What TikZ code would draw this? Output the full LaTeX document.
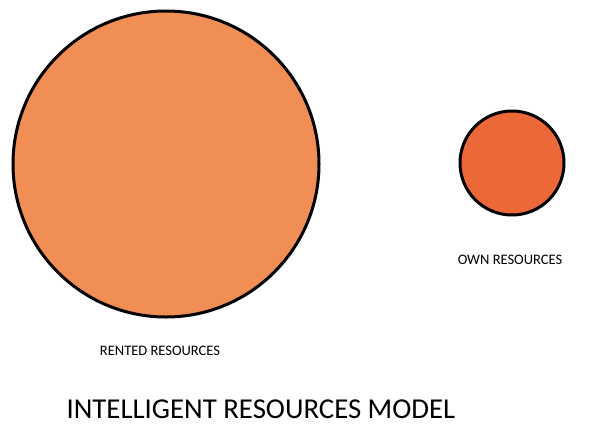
\documentclass[tikz,border=0pt]{standalone}
\usepackage{fontspec}
\setmainfont{Carlito}
\definecolor{rentfill}{RGB}{240,142,86}
\definecolor{ownfill}{RGB}{236,104,56}
\begin{document}
\begin{tikzpicture}[x=1pt,y=-1pt,
  bubble/.style={circle,draw=black,line width=3pt,inner sep=0pt},
  lbl/.style={font=\fontsize{14.5}{16}\selectfont,inner sep=0pt}]
\useasboundingbox (0,0) rectangle (600,424);
\node[bubble,fill=rentfill,minimum size=306pt] (rented) at (166,164) {};
\node[bubble,fill=ownfill,minimum size=104pt] (own) at (512,163) {};
\node[lbl] (rentedlbl) at (160,351) {RENTED RESOURCES};
\node[lbl] (ownlbl) at (510,260) {OWN RESOURCES};
\node[inner sep=0pt,font=\fontsize{28.8}{32}\selectfont] (title) at (261,409) {INTELLIGENT RESOURCES MODEL};
\end{tikzpicture}
\end{document}
